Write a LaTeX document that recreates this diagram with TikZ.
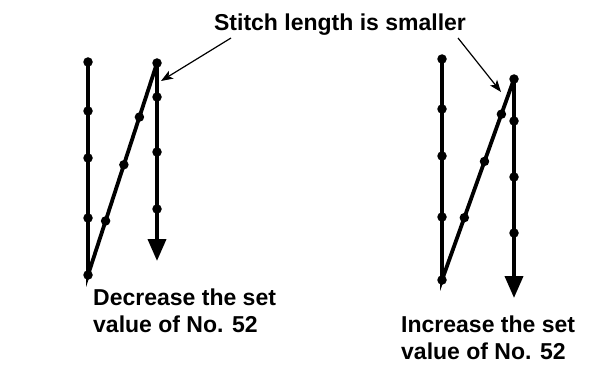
\documentclass[tikz,border=0pt]{standalone}
\usepackage{fontspec}
\setmainfont{Liberation Sans}
\usetikzlibrary{arrows.meta}
\tikzset{
  stitch/.style={line width=3.8pt},
  feed/.style={stitch,-{Triangle[length=22pt,width=18pt]}},
  dot/.style={circle,fill,inner sep=0pt,minimum size=9.5pt},
  pointer/.style={-{Stealth[length=12pt,width=9pt,inset=3pt]},line width=1.2pt},
  lbl/.style={font=\fontsize{23}{27}\selectfont\bfseries,align=left,anchor=north west,inner sep=0pt},
}
\begin{document}
\begin{tikzpicture}[x=1pt,y=-1pt]
  \useasboundingbox (0,0) rectangle (593,371);
  % left: decrease the set value
  \foreach \n/\y in {1/62,2/111,3/158,4/218,5/275} {\node[dot] (la\n) at (88,\y) {};}
  \node[dot] (lb1) at (157,63) {};
  \foreach \n/\y in {2/97,3/152,4/209} {\node[dot] (lb\n) at (157,\y) {};}
  \coordinate (lend) at (157,261);
  \draw[stitch] (la1.center) -- (la5.center) -- (lb1.center);
  \draw[feed] (lb1.center) -- (lend);
  \path (la5.center) -- (lb1.center)
    node[dot,pos=0.255] (lc1) {}
    node[dot,pos=0.52] (lc2) {}
    node[dot,pos=0.745] (lc3) {};
  % right: increase the set value
  \foreach \n/\y in {1/59,2/109,3/156,4/217,5/280} {\node[dot] (ra\n) at (442,\y) {};}
  \node[dot] (rb1) at (514,79) {};
  \foreach \n/\y in {2/121,3/177,4/233} {\node[dot] (rb\n) at (514,\y) {};}
  \coordinate (rend) at (514,298);
  \draw[stitch] (ra1.center) -- (ra5.center) -- (rb1.center);
  \draw[feed] (rb1.center) -- (rend);
  \path (ra5.center) -- (rb1.center)
    node[dot,pos=0.31] (rc1) {}
    node[dot,pos=0.59] (rc2) {}
    node[dot,pos=0.825] (rc3) {};
  % labels
  \node[lbl,anchor=north] (title) at (340,14) {Stitch length is smaller};
  \coordinate (lp) at (231,38);
  \coordinate (rp) at (458,38);
  \coordinate (ltip) at (161,81);
  \coordinate (rtip) at (501,92);
  \draw[pointer] (lp) -- (ltip);
  \draw[pointer] (rp) -- (rtip);
  \node[lbl] (dec) at (93,289) {Decrease the set\\value of No. 52};
  \node[lbl] (inc) at (401,316) {Increase the set\\value of No. 52};
\end{tikzpicture}
\end{document}
